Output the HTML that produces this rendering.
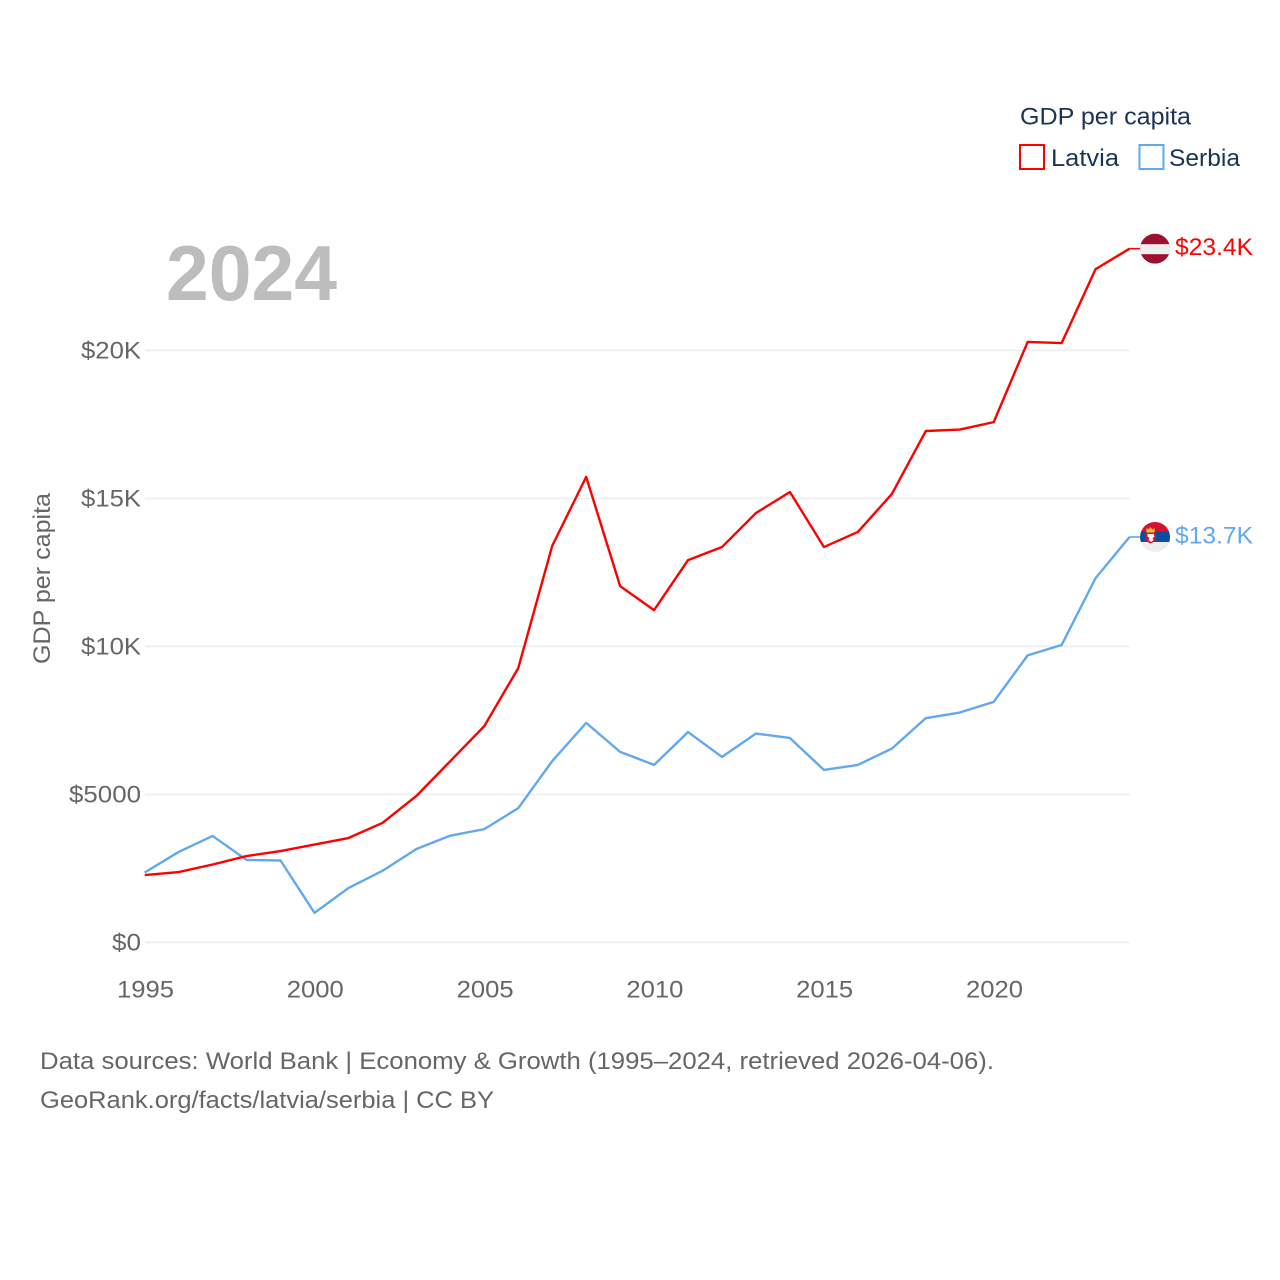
<!DOCTYPE html>
<html lang="en">
<head>
<meta charset="utf-8">
<title>GDP per capita: Latvia and Serbia</title>
<style>
html,body{margin:0;padding:0;background:#fff;width:1280px;height:1280px;overflow:hidden}
svg{display:block}
text{font-family:"Liberation Sans",sans-serif}
</style>
</head>
<body>
<svg id="chart" xmlns="http://www.w3.org/2000/svg" width="1280" height="1280" viewBox="0 0 1280 1280">
  <rect x="0" y="0" width="1280" height="1280" fill="#ffffff"/>
  <g id="grid"></g>
  <g id="yticks"></g>
  <g id="xticks"></g>
  <text transform="translate(50,664) rotate(-90)" font-size="24" fill="#666666" textLength="171" lengthAdjust="spacingAndGlyphs">GDP per capita</text>
  <text x="166" y="300" font-size="78" font-weight="700" fill="#bdbdbd" textLength="171" lengthAdjust="spacingAndGlyphs">2024</text>
  <g id="series"></g>
  <g id="end-latvia">
    <clipPath id="clip-lv"><circle cx="0" cy="0" r="15"/></clipPath>
    <g clip-path="url(#clip-lv)">
      <rect x="-15" y="-15" width="30" height="30" fill="#9e1030"/>
      <rect x="-15" y="-4.5" width="30" height="10" fill="#eeeeee"/>
    </g>
  </g>
  <g id="end-serbia">
    <clipPath id="clip-rs"><circle cx="0" cy="0" r="15"/></clipPath>
    <g clip-path="url(#clip-rs)">
      <rect x="-15" y="-15" width="30" height="30" fill="#eeeeee"/>
      <rect x="-15" y="-15" width="30" height="10" fill="#d8122e"/>
      <rect x="-15" y="-5.5" width="30" height="10.5" fill="#0c4da2"/>
      <path d="M-8.5-9l2 1.500l2-2.500l2 2.500l2-1.500v4.500h-8z" fill="#f2c230"/>
      <path d="M-9.500-4.500h10v7q-1.500 2.500-5 4q-3.500-1.500-5-4z" fill="#d8122e"/>
      <path d="M-7.500-3h6l1 2.500l-2 1.500l1 2l-2.500 2l-2.500-2l1-2l-2-1.500z" fill="#ffffff"/>
    </g>
  </g>
  <g id="legend">
    <text x="1020" y="124.500" font-size="24" fill="#1a3454" textLength="171" lengthAdjust="spacingAndGlyphs">GDP per capita</text>
    <g>
      <rect x="1020" y="145" width="24" height="24" fill="none" stroke="#ff0000" stroke-width="2"/>
      <text x="1051" y="166" font-size="24" fill="#1a3454" textLength="68" lengthAdjust="spacingAndGlyphs">Latvia</text>
    </g>
    <g>
      <rect x="1139.500" y="145" width="24" height="24" fill="none" stroke="#62a8ee" stroke-width="2"/>
      <text x="1169" y="166" font-size="24" fill="#1a3454" textLength="71" lengthAdjust="spacingAndGlyphs">Serbia</text>
    </g>
  </g>
  <text x="40" y="1069" font-size="24" fill="#666666" textLength="954" lengthAdjust="spacingAndGlyphs">Data sources: World Bank | Economy &amp; Growth (1995–2024, retrieved 2026-04-06).</text>
  <text x="40" y="1108" font-size="24" fill="#666666" textLength="454" lengthAdjust="spacingAndGlyphs">GeoRank.org/facts/latvia/serbia | CC BY</text>
</svg>
<script>
const years = [1995,1996,1997,1998,1999,2000,2001,2002,2003,2004,2005,2006,2007,2008,2009,2010,2011,2012,2013,2014,2015,2016,2017,2018,2019,2020,2021,2022,2023,2024];
const latviaValues = [2280,2380,2635,2920,3090,3310,3530,4040,4950,6130,7310,9270,13400,15730,12040,11230,12920,13360,14510,15220,13360,13870,15150,17280,17330,17580,20290,20250,22750,23440];
const serbiaValues = [2365,3060,3600,2790,2770,1000,1840,2420,3160,3610,3830,4540,6130,7420,6440,6000,7110,6270,7060,6910,5830,6000,6550,7580,7770,8130,9700,10050,12310,13700];
const yTickValues = [0,5000,10000,15000,20000];
const yTickLabels = ["$0","$5000","$10K","$15K","$20K"];
const xTickValues = [1995,2000,2005,2010,2015,2020];
const endLabels = ["$23.4K","$13.7K"];

const NS = 'http://www.w3.org/2000/svg';
function xScale(year){ return 144.7 + (year - 1995) * 33.96; }
function yScale(value){ return 942.5 - value * (592 / 20000); }
function make(tag, parent, attrs, text){
  const el = document.createElementNS(NS, tag);
  for (const k in attrs) el.setAttribute(k, attrs[k]);
  if (text !== undefined) el.textContent = text;
  parent.appendChild(el);
  return el;
}
const labelWidth = {"$0":29,"$5000":72,"$10K":60,"$15K":60,"$20K":60};
const gridG = document.getElementById('grid');
const yG = document.getElementById('yticks');
const xG = document.getElementById('xticks');
const seriesG = document.getElementById('series');

yTickValues.forEach(function(v, i){
  const y = yScale(v);
  const line = make('line', gridG, {x1:145, x2:1130, y1:y, y2:y, stroke:'#ececec', 'stroke-width':1.6});
  
  
  const label = yTickLabels[i];
  const t = make('text', yG, {x:141, y:y + 8, 'text-anchor':'end', 'font-size':24, fill:'#666666', textLength:labelWidth[label], lengthAdjust:'spacingAndGlyphs'}, label);
  
  
});

xTickValues.forEach(function(yr){
  const t = make('text', xG, {x:xScale(yr) + 0.8, y:997.5, 'text-anchor':'middle', 'font-size':24, fill:'#666666', textLength:57, lengthAdjust:'spacingAndGlyphs'}, String(yr));
  
  
});

function drawSeries(values, color, groupId, labelText){
  const pts = values.map(function(v, i){ return xScale(years[i]).toFixed(2) + ',' + yScale(v).toFixed(2); });
  const line = make('polyline', seriesG, {points:pts.join(' '), fill:'none', stroke:color, 'stroke-width':2.4, 'stroke-linejoin':'round'});
  
  
  const lastY = yScale(values[values.length - 1]);
  const lastX = xScale(years[years.length - 1]);
  const connector = make('line', seriesG, {x1:lastX, x2:lastX + 10.5, y1:lastY, y2:lastY, stroke:color, 'stroke-width':1.6});
  
  
  const group = document.getElementById(groupId);
  group.setAttribute('transform', 'translate(' + (lastX + 25.5) + ',' + lastY + ')');
  const label = make('text', group, {x:20, y:6.5, 'font-size':24, fill:color, textLength:78, lengthAdjust:'spacingAndGlyphs'}, labelText);
  
  
}
drawSeries(serbiaValues, '#62a8ee', 'end-serbia', endLabels[1]);
drawSeries(latviaValues, '#ff0000', 'end-latvia', endLabels[0]);
</script>
</body>
</html>
